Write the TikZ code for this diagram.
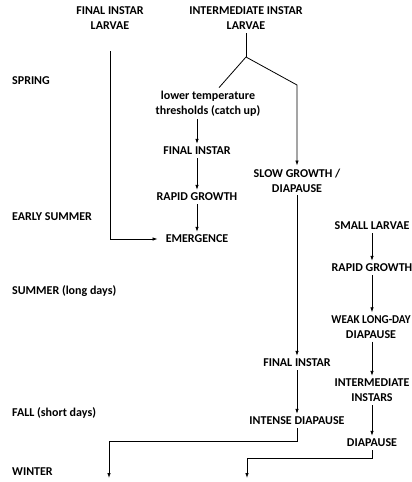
\documentclass[tikz,border=0pt]{standalone}
\usepackage{fontspec}
\setmainfont{Carlito}
\usetikzlibrary{arrows.meta,positioning,calc}

\tikzset{
    lbl/.style={align=center, inner sep=3pt, font=\bfseries\fontsize{12}{15}\selectfont},
    season/.style={anchor=west, inner sep=0pt, font=\bfseries\fontsize{12}{15}\selectfont},
    arr/.style={-{Latex[length=5pt,width=3.5pt]}, line width=0.8pt},
    ln/.style={line width=0.8pt}
}

\begin{document}
\begin{tikzpicture}[x=1pt, y=-1pt]
    \useasboundingbox (0,0) rectangle (412,482);

    % Seasons
    \node[season] (spring) at (12,81) {SPRING};
    \node[season] (early) at (12,217) {EARLY SUMMER};
    \node[season] (summer) at (12,291) {SUMMER (long days)};
    \node[season] (fall) at (12,413) {FALL (short days)};
    \node[season] (winter) at (12,472) {WINTER};

    % Starting stages
    \node[lbl] (finlarv) at (110,18.5) {FINAL INSTAR\\LARVAE};
    \node[lbl] (intlarv) at (246,18.5) {INTERMEDIATE INSTAR\\LARVAE};

    % Middle column
    \node[lbl] (lowtemp) at (208,103.5) {lower temperature\\thresholds (catch up)};
    \node[lbl] (fin1) at (197,151) {FINAL INSTAR};
    \node[lbl] (rap1) at (197,197) {RAPID GROWTH};
    \node[lbl] (emerg) at (197,239) {EMERGENCE};

    % Slow column
    \node[lbl] (slow) at (297,180.5) {SLOW GROWTH /\\DIAPAUSE};
    \node[lbl] (fin2) at (297,363) {FINAL INSTAR};
    \node[lbl] (intense) at (297,421) {INTENSE DIAPAUSE};

    % Right column
    \node[lbl] (small) at (372,226) {SMALL LARVAE};
    \node[lbl] (rap2) at (372,268) {RAPID GROWTH};
    \node[lbl] (weak) at (371,327) {{\addfontfeatures{FakeStretch=0.93}WEAK LONG-DAY}\\DIAPAUSE};
    \node[lbl] (inter) at (372,390.5) {INTERMEDIATE\\INSTARS};
    \node[lbl] (diap) at (372,443) {DIAPAUSE};

    % Helper points
    \coordinate (split) at (246,57);
    \coordinate (bend) at (297,85);
    \coordinate (w1) at (109,478);
    \coordinate (w2) at (247,478);

    % Arrows
    \draw[arr, shorten >=5pt] ([yshift=-18pt]finlarv.south) |- (emerg.west);
    \draw[ln] (intlarv.south) -- (split);
    \draw[ln] (split) -- ([xshift=11pt]lowtemp.north);
    \draw[arr] (split) -- (bend) -- (slow.north);
    \draw[arr] (lowtemp.south -| fin1) -- (fin1);
    \draw[arr] (fin1) -- (rap1);
    \draw[arr] (rap1) -- (emerg);
    \draw[arr] (slow) -- (fin2);
    \draw[arr] (fin2) -- (intense);
    \draw[arr] (small) -- (rap2);
    \draw[arr] (rap2) -- (weak.north -| rap2);
    \draw[arr] (weak.south -| inter) -- (inter);
    \draw[arr] (inter) -- (diap);
    \draw[arr] (intense.south) -- ++(0,13) -| (w1);
    \draw[arr] (diap.south) -- ++(0,8) -| (w2);
\end{tikzpicture}
\end{document}
